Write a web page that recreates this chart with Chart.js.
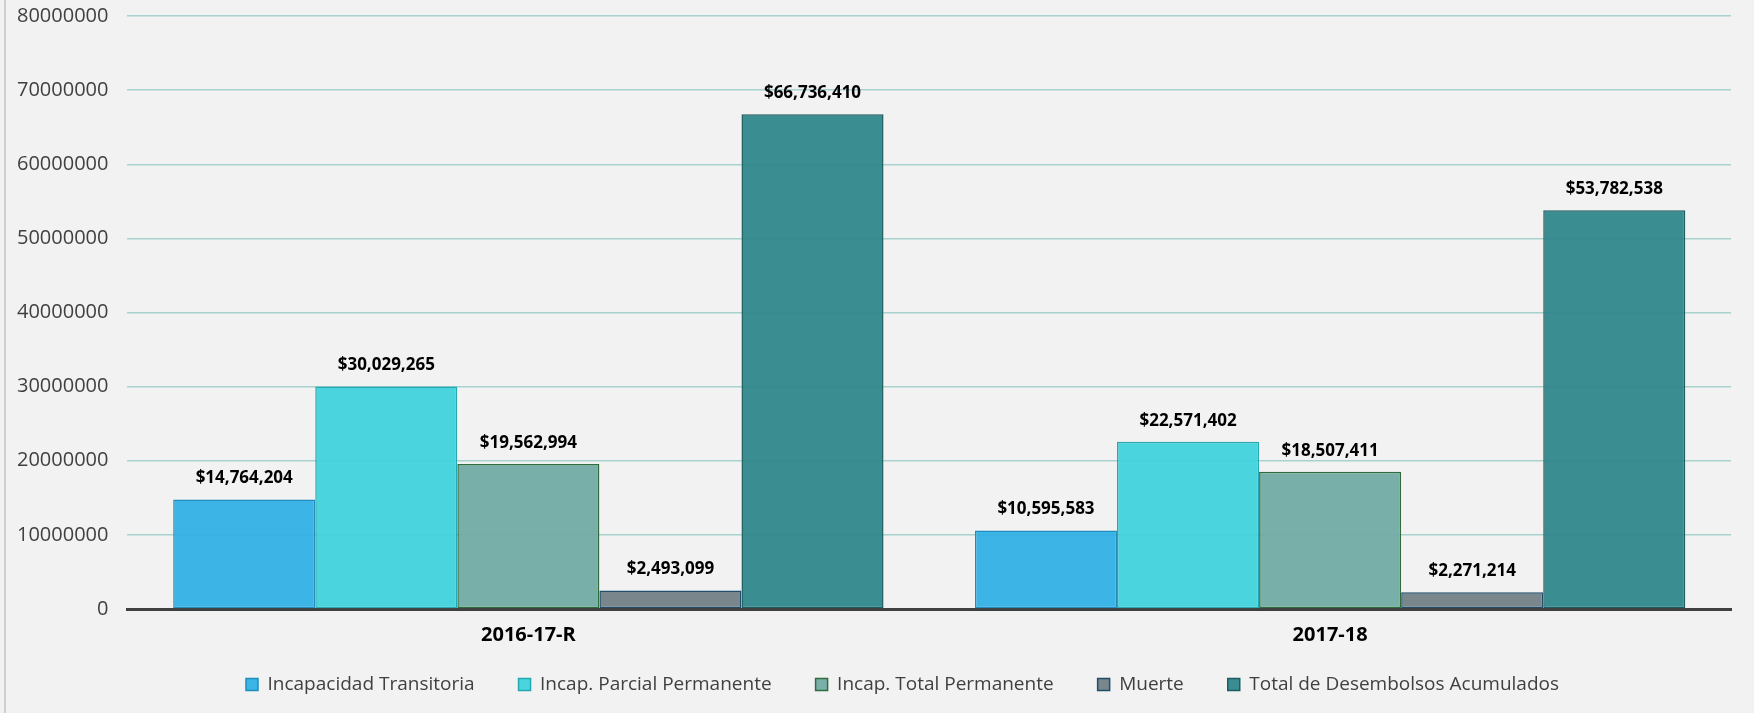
<!DOCTYPE html>
<html>
<head>
<meta charset="utf-8">
<script src="https://cdn.jsdelivr.net/npm/chart.js@4.4.1/dist/chart.umd.min.js"></script>
<style>
  html, body { margin: 0; padding: 0; background: #f2f2f2; }
  #wrap { position: relative; width: 1754px; height: 713px; background: #f2f2f2; }
  #wrap::before { content: ""; position: absolute; left: 4px; top: 0; bottom: 0; width: 2px; background: #cfcfcf; }
  canvas { display: block; }
</style>
</head>
<body>
<div id="wrap"><canvas id="c" width="1754" height="713"></canvas></div>
<script>
const categories = ["2016-17-R", "2017-18"];
const seriesNames = [
  "Incapacidad Transitoria",
  "Incap. Parcial Permanente",
  "Incap. Total Permanente",
  "Muerte",
  "Total de Desembolsos Acumulados"
];
const incapacidadTransitoria = [14764204, 10595583];
const incapParcialPermanente = [30029265, 22571402];
const incapTotalPermanente = [19562994, 18507411];
const muerte = [2493099, 2271214];
const totalDesembolsos = [66736410, 53782538];
const yTicks = [0, 10000000, 20000000, 30000000, 40000000, 50000000, 60000000, 70000000, 80000000];

const fills = ["rgba(50,176,228,0.95)", "rgba(64,211,220,0.95)", "rgba(112,170,164,0.93)", "rgba(114,129,135,0.95)", "rgba(46,134,137,0.94)"];
const borders = ["#1f8dbd", "#25a8b1", "#2f6b3d", "#1f4e6a", "#1d5d61"];
const values = [incapacidadTransitoria, incapParcialPermanente, incapTotalPermanente, muerte, totalDesembolsos];

const fmt = v => "$" + v.toLocaleString("en-US");

const valueLabels = {
  id: "valueLabels",
  afterDatasetsDraw(chart) {
    const ctx = chart.ctx;
    ctx.save();
    ctx.font = "bold 17px 'Open Sans'";
    ctx.fillStyle = "#000000";
    ctx.textAlign = "center";
    ctx.textBaseline = "middle";
    chart.data.datasets.forEach((ds, i) => {
      const meta = chart.getDatasetMeta(i);
      meta.data.forEach((bar, j) => {
        ctx.fillText(fmt(ds.data[j]), bar.x, bar.y - 21);
      });
    });
    ctx.restore();
  }
};

const layoutTweaks = {
  id: "layoutTweaks",
  afterLayout(chart) {
    chart.scales.x.bottom += 50;
    if (chart.legend) { chart.legend.left += 38; chart.legend.right += 38; }
  }
};

Chart.defaults.font.family = "'Open Sans'";
new Chart(document.getElementById("c"), {
  type: "bar",
  data: {
    labels: categories,
    datasets: seriesNames.map((n, i) => ({
      label: n,
      data: values[i],
      backgroundColor: fills[i],
      borderColor: borders[i],
      borderWidth: 1.5,
      borderSkipped: false,
      barPercentage: 1.0,
      categoryPercentage: 0.886
    }))
  },
  options: {
    responsive: false,
    animation: false,
    devicePixelRatio: 1,
    layout: { padding: { left: -2, right: 23, top: 16, bottom: 9 } },
    plugins: {
      legend: {
        position: "bottom",
        maxHeight: 86,
        labels: {
          boxWidth: 12,
          boxHeight: 12,
          padding: 44,
          color: "#404040",
          font: { size: 19 }
        }
      },
      tooltip: { enabled: false }
    },
    scales: {
      x: {
        afterFit: axis => { axis.height = 22; },
        grid: { display: false, drawTicks: false },
        border: { display: true, color: "#404040", width: 3 },
        ticks: { color: "#000000", font: { size: 20, weight: "bold" }, padding: 14 }
      },
      y: {
        min: 0,
        max: 80000000,
        afterBuildTicks: axis => { axis.ticks = yTicks.map(v => ({ value: v })); },
        afterFit: axis => { axis.paddingTop = 0; axis.paddingBottom = 0; },
        grid: { color: "#a8d2ce", lineWidth: 1.5, drawTicks: false },
        border: { display: false },
        ticks: { color: "#404040", font: { size: 20 }, padding: 19, callback: v => String(v) }
      }
    }
  },
  plugins: [valueLabels, layoutTweaks]
});
</script>
</body>
</html>
